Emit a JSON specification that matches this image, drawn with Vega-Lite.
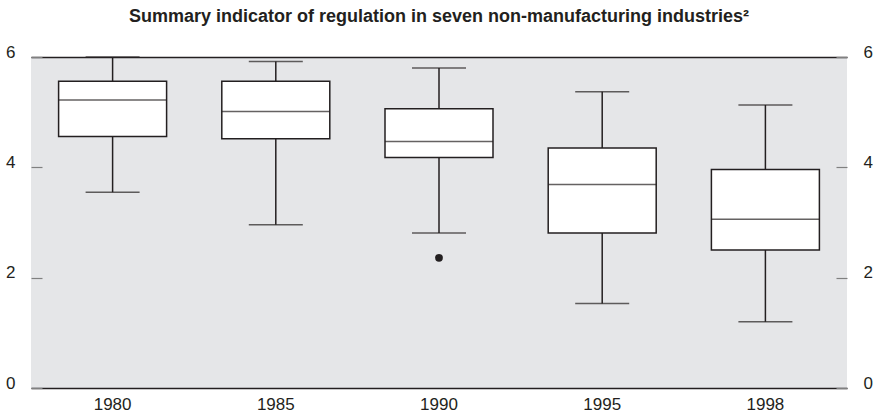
{
  "$schema": "https://vega.github.io/schema/vega-lite/v6.json",
  "width": 816,
  "height": 331,
  "autosize": {"type": "none"},
  "padding": {"left": 31, "top": 57, "right": 32, "bottom": 28},
  "background": "white",
  "config": {
    "view": {"fill": null, "stroke": null},
    "font": "Liberation Sans",
    "axis": {"labelFont": "Liberation Sans", "labelFontSize": 17, "labelColor": "#231f20", "grid": false, "title": null}
  },
  "title": {
    "text": "Summary indicator of regulation in seven non-manufacturing industries²",
    "font": "Liberation Sans",
    "fontSize": 18,
    "fontWeight": "bold",
    "color": "#231f20",
    "anchor": "middle",
    "offset": 17
  },
  "data": {
    "values": [
      {"year": "1980", "min": 3.55, "q1": 4.56, "median": 5.22, "q3": 5.56, "max": 6.0, "outlier": null},
      {"year": "1985", "min": 2.96, "q1": 4.52, "median": 5.01, "q3": 5.56, "max": 5.92, "outlier": null},
      {"year": "1990", "min": 2.81, "q1": 4.18, "median": 4.47, "q3": 5.06, "max": 5.80, "outlier": 2.36},
      {"year": "1995", "min": 1.53, "q1": 2.81, "median": 3.69, "q3": 4.35, "max": 5.37, "outlier": null},
      {"year": "1998", "min": 1.20, "q1": 2.50, "median": 3.06, "q3": 3.96, "max": 5.13, "outlier": null}
    ]
  },
  "layer": [
    {
      "data": {"values": [{"lo": 0, "hi": 6}]},
      "mark": {"type": "rect", "fill": "#e5e6e8", "stroke": null},
      "encoding": {
        "y": {"field": "lo", "type": "quantitative", "axis": null},
        "y2": {"field": "hi"}
      }
    },
    {
      "mark": {"type": "rule", "color": "#231f20", "strokeWidth": 1.5},
      "encoding": {
        "x": {"field": "year", "type": "nominal", "scale": {"paddingInner": 0, "paddingOuter": 0},
          "axis": {"orient": "bottom", "labelAngle": 0, "ticks": false, "domain": true, "domainColor": "#231f20", "domainWidth": 1.5, "labelPadding": 8, "zindex": 1}},
        "y": {"field": "min", "type": "quantitative", "scale": {"domain": [0, 6], "nice": false},
          "axis": {"orient": "left", "values": [0, 2, 4, 6], "domain": false, "ticks": true, "offset": -11, "tickSize": 11, "tickColor": "#808080", "tickWidth": 1.2, "labelPadding": 16, "labelOffset": -5, "zindex": 1}},
        "y2": {"field": "max"}
      }
    },
    {
      "mark": {"type": "tick", "color": "#231f20", "size": 54, "thickness": 1.5},
      "encoding": {
        "x": {"field": "year", "type": "nominal", "axis": null},
        "y": {"field": "min", "type": "quantitative", "axis": null}
      }
    },
    {
      "mark": {"type": "tick", "color": "#231f20", "size": 54, "thickness": 1.5},
      "encoding": {
        "x": {"field": "year", "type": "nominal", "axis": null},
        "y": {"field": "max", "type": "quantitative", "axis": null}
      }
    },
    {
      "mark": {"type": "bar", "size": 108, "fill": "white", "stroke": "#231f20", "strokeWidth": 1.5},
      "encoding": {
        "x": {"field": "year", "type": "nominal", "axis": null},
        "y": {"field": "q1", "type": "quantitative", "axis": null},
        "y2": {"field": "q3"}
      }
    },
    {
      "transform": [{"filter": "datum.outlier != null"}],
      "mark": {"type": "point", "filled": true, "color": "#231f20", "size": 60, "opacity": 1},
      "encoding": {
        "x": {"field": "year", "type": "nominal", "axis": null},
        "y": {"field": "outlier", "type": "quantitative", "axis": null}
      }
    },
    {
      "mark": {"type": "tick", "color": "#231f20", "size": 108, "thickness": 1.5},
      "encoding": {
        "x": {"field": "year", "type": "nominal",
          "axis": {"orient": "top", "labels": false, "ticks": false, "domain": true, "domainColor": "#231f20", "domainWidth": 1.5, "zindex": 1}},
        "y": {"field": "median", "type": "quantitative",
          "axis": {"orient": "right", "values": [0, 2, 4, 6], "domain": false, "ticks": true, "offset": -11, "tickSize": 11, "tickColor": "#808080", "tickWidth": 1.2, "labelPadding": 16, "labelOffset": -5, "zindex": 1}}
      }
    }
  ],
  "resolve": {"axis": {"x": "independent", "y": "independent"}}
}
